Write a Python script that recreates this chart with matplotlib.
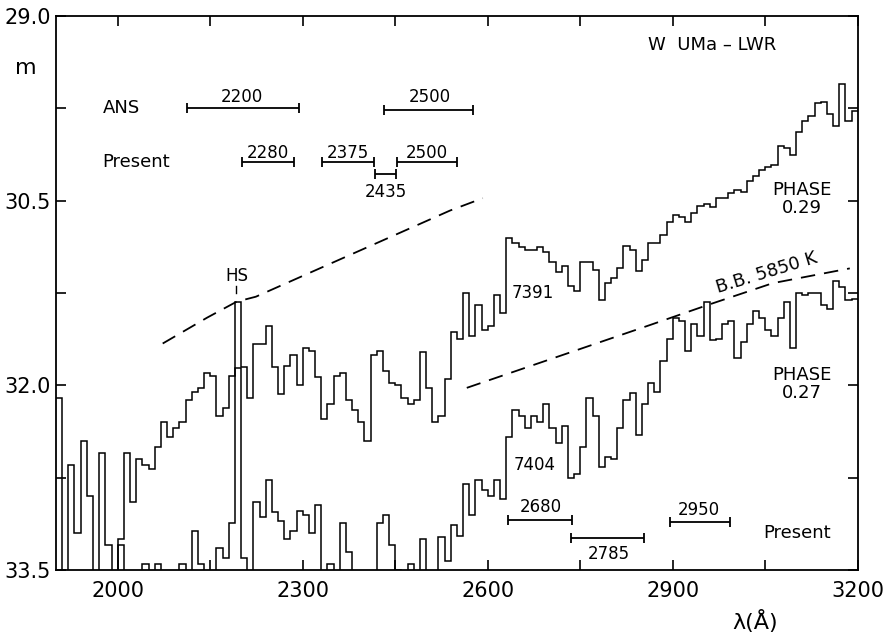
import numpy as np
import matplotlib
matplotlib.use("Agg")
import matplotlib.pyplot as plt

# IUE LWR spectra of W UMa, binned at 10 A (bin start wavelengths)
wl = np.arange(1900, 3200, 10)

# phase 0.29 (image 7391)
mag_029 = [
    32.10, 33.60, 32.65, 33.20, 32.45, 32.90, 33.60, 32.55, 33.30, 33.60,
    33.25, 32.55, 32.95, 32.60, 32.65, 32.68, 32.50, 32.30, 32.42, 32.35,
    32.30, 32.12, 32.05, 32.02, 31.90, 31.92, 32.25, 32.18, 31.92, 31.32,
    31.85, 32.10, 31.66, 31.66, 31.52, 31.85, 32.07, 31.84, 31.75, 32.00,
    31.70, 31.72, 31.93, 32.27, 32.15, 31.92, 31.90, 32.12, 32.20, 32.30,
    32.45, 31.75, 31.72, 31.88, 31.98, 32.00, 32.10, 32.15, 32.12, 31.73,
    32.02, 32.30, 32.25, 31.95, 31.57, 31.62, 31.25, 31.60, 31.35, 31.55,
    31.52, 31.27, 31.41, 30.80, 30.84, 30.88, 30.90, 30.90, 30.88, 30.92,
    31.00, 31.08, 31.03, 31.19, 31.23, 31.00, 31.00, 31.06, 31.31, 31.17,
    31.13, 31.05, 30.87, 30.90, 31.07, 30.98, 30.84, 30.84, 30.78, 30.67,
    30.62, 30.63, 30.67, 30.60, 30.54, 30.53, 30.55, 30.48, 30.48, 30.44,
    30.41, 30.43, 30.34, 30.30, 30.25, 30.23, 30.21, 30.06, 30.07, 30.13,
    29.94, 29.85, 29.81, 29.71, 29.70, 29.80, 29.89, 29.55, 29.85, 29.77,
]

# phase 0.27 (image 7404); values below 33.5 are off the plot
mag_027 = [
    33.60, 33.60, 33.60, 33.60, 33.60, 33.60, 33.60, 33.60, 33.60, 33.60,
    33.30, 33.60, 33.60, 33.60, 33.45, 33.60, 33.45, 33.60, 33.60, 33.60,
    33.45, 33.60, 33.18, 33.45, 33.60, 33.60, 33.32, 33.40, 33.12, 31.86,
    33.40, 33.60, 32.95, 33.07, 32.77, 33.03, 33.10, 33.25, 33.18, 33.02,
    33.05, 33.20, 32.97, 33.60, 33.45, 33.60, 33.12, 33.35, 33.60, 33.60,
    33.60, 33.60, 33.12, 33.05, 33.30, 33.50, 33.60, 33.45, 33.60, 33.25,
    33.60, 33.60, 33.23, 33.43, 33.13, 33.22, 32.80, 33.05, 32.77, 32.85,
    32.90, 32.77, 32.92, 32.42, 32.20, 32.25, 32.35, 32.25, 32.30, 32.15,
    32.35, 32.47, 32.33, 32.75, 32.72, 32.50, 32.10, 32.25, 32.66, 32.58,
    32.60, 32.35, 32.12, 32.06, 32.40, 32.15, 31.98, 32.05, 31.80, 31.62,
    31.45, 31.48, 31.72, 31.50, 31.60, 31.32, 31.63, 31.62, 31.50, 31.48,
    31.78, 31.65, 31.50, 31.40, 31.45, 31.55, 31.60, 31.45, 31.32, 31.70,
    31.25, 31.27, 31.25, 31.25, 31.35, 31.38, 31.15, 31.20, 31.31, 31.30,
]

# dashed reference curves
upper_curve_wl = [2073, 2145, 2193, 2224, 2539, 2592]
upper_curve_mag = [31.66, 31.45, 31.32, 31.28, 30.58, 30.48]
bb_wl = [2566, 2863, 2955, 3062, 3187]
bb_mag = [32.02, 31.51, 31.35, 31.17, 31.05]

# wavelength bands: (start, end, y, label, label x, label y)
bands = [
    (2112, 2294, 29.75, "2200", 2201, 29.66),
    (2432, 2576, 29.76, "2500", 2506, 29.66),
    (2201, 2286, 30.19, "2280", 2244, 30.11),
    (2331, 2415, 30.19, "2375", 2373, 30.11),
    (2417, 2451, 30.28, "2435", 2435, 30.43),
    (2453, 2550, 30.19, "2500", 2501, 30.11),
    (2633, 2736, 33.09, "2680", 2686, 32.99),
    (2735, 2853, 33.24, "2785", 2796, 33.37),
    (2895, 2992, 33.11, "2950", 2942, 33.01),
]

fig = plt.figure(figsize=(8.86, 6.37), dpi=100)
ax = fig.add_axes([0.0632, 0.105, 0.905, 0.870])

edges = np.append(wl, 3200)
ax.stairs(mag_029, edges, color="k", lw=1.1, baseline=None)
ax.stairs(mag_027, edges, color="k", lw=1.1, baseline=None)

ax.plot(upper_curve_wl, upper_curve_mag, color="k", lw=1.3, dashes=(8, 5))
ax.plot(bb_wl, bb_mag, color="k", lw=1.3, dashes=(8, 5))

for a, b, y, lab, lx, ly in bands:
    c = (a + b) / 2
    ax.errorbar(c, y, xerr=(b - a) / 2, fmt="none", ecolor="k",
                elinewidth=1.3, capsize=3.5, capthick=1.3)
    ax.text(lx, ly, lab, ha="center", va="center", fontsize=12)

ax.text(1976, 29.75, "ANS", ha="left", va="center", fontsize=13)
ax.text(1975, 30.19, "Present", ha="left", va="center", fontsize=13)
ax.text(3101, 33.2, "Present", ha="center", va="center", fontsize=13)
ax.text(2963, 29.24, "W  UMa – LWR", ha="center", va="center", fontsize=13)
ax.text(3109, 30.49, "PHASE\n0.29", ha="center", va="center", fontsize=13,
        linespacing=1.0)
ax.text(3109, 31.99, "PHASE\n0.27", ha="center", va="center", fontsize=13,
        linespacing=1.0)
ax.text(2673, 31.25, "7391", ha="center", va="center", fontsize=12)
ax.text(2676, 32.65, "7404", ha="center", va="center", fontsize=12)
ax.text(3052, 31.09, "B.B. 5850 K", ha="center", va="center", fontsize=13,
        rotation=17, rotation_mode="anchor")
ax.text(2193, 31.11, "HS", ha="center", va="center", fontsize=12)
ax.plot([2192, 2192], [31.19, 31.25], color="k", lw=1.0)

ax.set_xlim(1900, 3200)
ax.set_ylim(33.5, 29.0)
ax.set_xticks([2000, 2300, 2600, 2900, 3200])
ax.set_xticks([2150, 2450, 2750, 3050], minor=True)
ax.set_yticks([29.0, 30.5, 32.0, 33.5])
ax.set_yticklabels(["29.0", "30.5", "32.0", "33.5"])
ax.set_yticks([29.75, 31.25, 32.75], minor=True)
ax.tick_params(which="both", direction="in", top=True, right=True,
               length=7, width=1.2, labelsize=15)
ax.tick_params(axis="x", pad=8)
for s in ax.spines.values():
    s.set_linewidth(1.3)

fig.text(26 / 886, 1 - 68 / 637, "m", ha="center", va="center", fontsize=16)
fig.text(755 / 886, 1 - 622 / 637, "λ(Å)", ha="center", va="center", fontsize=16)

fig.savefig("out.png", dpi=100)
